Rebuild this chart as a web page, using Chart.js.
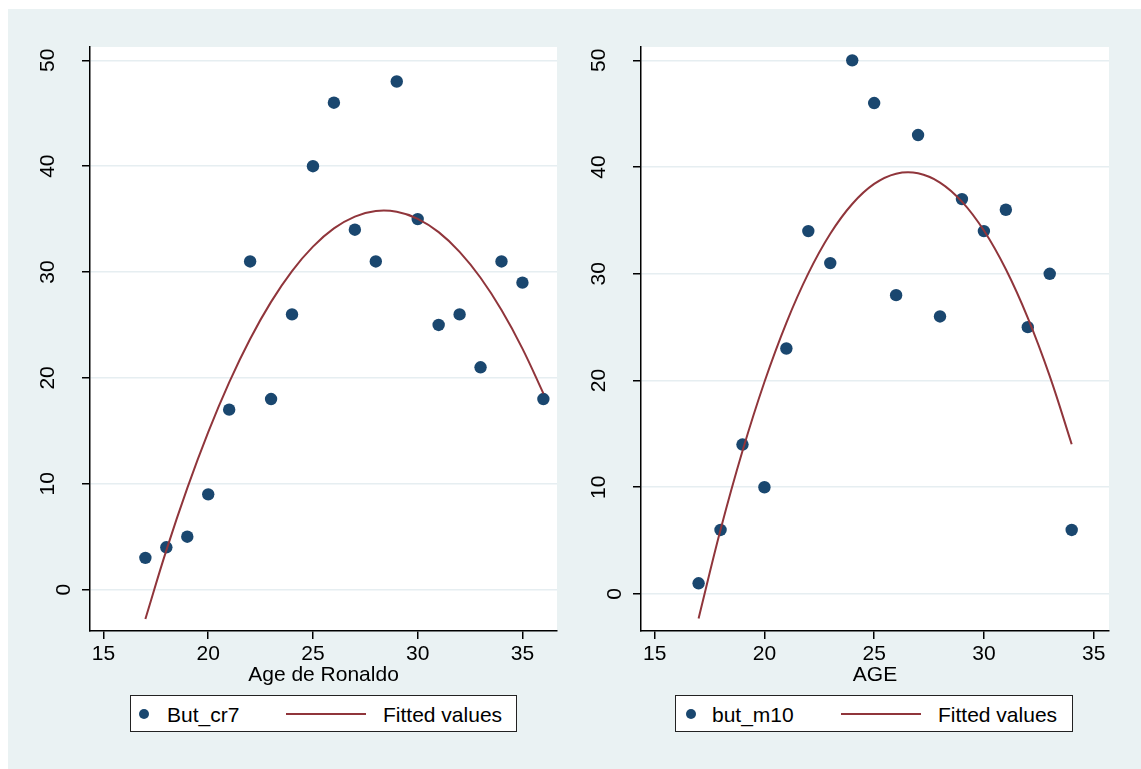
<!DOCTYPE html>
<html>
<head>
<meta charset="utf-8">
<script src="https://cdn.jsdelivr.net/npm/chart.js@4.4.1/dist/chart.umd.min.js"></script>
<style>
  html, body { margin: 0; padding: 0; background: #ffffff; }
  body { width: 1141px; height: 769px; position: relative; overflow: hidden; font-family: "Liberation Sans", Arial, sans-serif; }
  #bg { position: absolute; left: 8px; top: 9px; width: 1133px; height: 760px; background: #eaf2f3; }
  .cv { position: absolute; top: 9px; height: 681px; }
  #c1wrap { left: 8px; width: 562px; }
  #c2wrap { left: 570px; width: 571px; }
  .legend { position: absolute; top: 695px; height: 37px; box-sizing: border-box; border: 1.5px solid #222; background: #fff; font-size: 21px; color: #000; }
  .legend .dot { position: absolute; top: 50%; width: 10px; height: 10px; margin-top: -5px; margin-left: -5px; border-radius: 50%; background: #1a476f; }
  .legend .ln { position: absolute; top: 50%; height: 2px; margin-top: -1px; background: #90353b; }
  .legend .tx { position: absolute; top: 50%; transform: translateY(-50%); white-space: nowrap; line-height: 1; }
</style>
</head>
<body>
<div id="bg"></div>
<div class="cv" id="c1wrap"><canvas id="c1" width="562" height="681"></canvas></div>
<div class="cv" id="c2wrap"><canvas id="c2" width="571" height="681"></canvas></div>

<div class="legend" id="lg1" style="left:130px; width:387px;">
  <div class="dot" style="left:13px;"></div>
  <div class="tx" style="left:36px;">But_cr7</div>
  <div class="ln" style="left:155px; width:80px;"></div>
  <div class="tx" style="left:252px;">Fitted values</div>
</div>
<div class="legend" id="lg2" style="left:675px; width:398px;">
  <div class="dot" style="left:15px;"></div>
  <div class="tx" style="left:36px;">but_m10</div>
  <div class="ln" style="left:165px; width:80px;"></div>
  <div class="tx" style="left:262px;">Fitted values</div>
</div>

<script>
// ---- Data ----
const agesCR7  = [17,18,19,20,21,22,23,24,25,26,27,28,29,30,31,32,33,34,35,36];
const goalsCR7 = [3,4,5,9,17,31,18,26,40,46,34,31,48,35,25,26,21,31,29,18];
const fitCR7   = [-2.77,3.71,9.59,14.88,19.58,23.68,27.18,30.09,32.40,34.12,35.24,35.76,35.69,35.03,33.77,31.91,29.46,26.41,22.77,18.53];

const agesM10  = [17,18,19,20,21,22,23,24,25,26,27,28,29,30,31,32,33,34];
const goalsM10 = [1,6,14,10,23,34,31,50,46,28,43,26,37,34,36,25,30,6];
const fitM10   = [-2.29,6.01,13.39,19.86,25.41,30.04,33.75,36.54,38.42,39.38,39.42,38.55,36.76,34.05,30.42,25.87,20.41,14.03];

const xTicks = [15,20,25,30,35];
const yTicks = [0,10,20,30,40,50];

const xTitles = ['Age de Ronaldo', 'AGE'];

// ---- Chart helpers ----
const FONT = '"Liberation Sans", Arial, sans-serif';
const FS = 21;
const DOT = '#1a476f';
const LINE = '#90353b';

const plotBg = {
  id: 'plotBg',
  beforeDraw(chart) {
    const {ctx, chartArea: a} = chart;
    ctx.save();
    ctx.fillStyle = '#ffffff';
    ctx.fillRect(a.left, a.top, a.right - a.left, a.bottom - a.top);
    ctx.restore();
  }
};

const yLabels = {
  id: 'yLabels',
  afterDraw(chart) {
    const ctx = chart.ctx;
    const s = chart.scales.y;
    ctx.save();
    ctx.font = FS + 'px ' + FONT;
    ctx.fillStyle = '#000';
    ctx.textAlign = 'center';
    ctx.textBaseline = 'middle';
    s.ticks.forEach(t => {
      const lab = String(t.value);
      const w = ctx.measureText(lab).width;
      const py = s.getPixelForValue(t.value);
      const px = s.right - 10 - 1.41 * w;
      ctx.save();
      ctx.translate(px, py);
      ctx.rotate(-Math.PI / 2);
      ctx.fillText(lab, 0, 1);
      ctx.restore();
    });
    ctx.restore();
  }
};

function makeChart(id, ages, goals, fit, title, xr, yr, yWidth, padRight) {
  const pts = ages.map((a, i) => ({x: a, y: goals[i]}));
  const fpts = ages.map((a, i) => ({x: a, y: fit[i]}));
  return new Chart(document.getElementById(id), {
    type: 'scatter',
    data: {
      datasets: [
        { label: 'Fitted values', data: fpts, showLine: true, pointRadius: 0, borderColor: LINE, borderWidth: 2, tension: 0.4, order: 0 },
        { label: 'points', data: pts, pointRadius: 6.2, pointBackgroundColor: DOT, pointBorderColor: DOT, pointBorderWidth: 0, order: 1 }
      ]
    },
    options: {
      responsive: false,
      animation: false,
      devicePixelRatio: 1,
      layout: { padding: { top: 38, right: padRight, left: 0, bottom: 0 } },
      plugins: { legend: { display: false }, tooltip: { enabled: false } },
      scales: {
        x: {
          type: 'linear', min: xr[0], max: xr[1],
          afterBuildTicks: s => { s.ticks = xTicks.map(v => ({value: v})); },
          afterFit: s => { s.height = 59; },
          grid: { drawOnChartArea: false, tickLength: 8, tickColor: '#000', lineWidth: 1.5 },
          border: { color: '#000', width: 1.5 },
          ticks: { color: '#000', padding: 3, maxRotation: 0, font: { family: FONT, size: FS } },
          title: { display: true, text: title, color: '#000', padding: { top: 0, bottom: 2 }, font: { family: FONT, size: FS } }
        },
        y: {
          type: 'linear', min: yr[0], max: yr[1],
          afterBuildTicks: s => { s.ticks = yTicks.map(v => ({value: v})); },
          afterFit: s => { s.width = yWidth; },
          grid: { color: '#e6eef1', lineWidth: 1.5, tickLength: 8, tickColor: '#000' },
          border: { color: '#000', width: 1.5 },
          ticks: { color: 'rgba(0,0,0,0)', font: { family: FONT, size: FS } }
        }
      }
    },
    plugins: [plotBg, yLabels]
  });
}

makeChart('c1', agesCR7, goalsCR7, fitCR7, xTitles[0], [14.356, 36.65], [-3.91, 51.26], 82, 13);
makeChart('c2', agesM10, goalsM10, fitM10, xTitles[1], [14.376, 35.70], [-3.47, 51.25], 71, 32);
</script>
</body>
</html>
